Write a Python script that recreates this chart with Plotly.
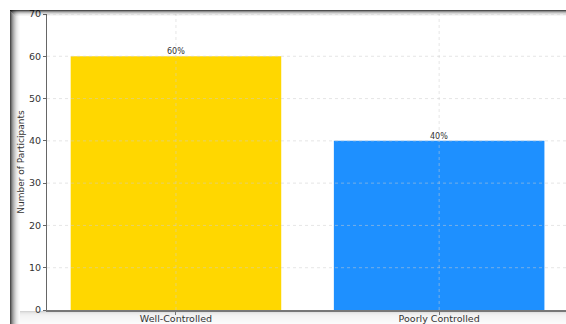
import plotly.graph_objects as go

# Participant counts by glycaemic control status
categories = ["Well-Controlled", "Poorly Controlled"]
participants = [60, 40]
percent_labels = ["60%", "40%"]
bar_colors = ["#FFD700", "#1E90FF"]
y_ticks = [0, 10, 20, 30, 40, 50, 60, 70]

W, H = 566, 324
ML, MR, MT, MB = 47, 0, 14, 14
PW, PH = W - ML - MR, H - MT - MB


def px_x(px):
    return (px - ML) / PW


def px_y(py):
    return (H - MB - py) / PH


fig = go.Figure()
fig.add_trace(go.Bar(
    x=list(range(len(categories))),
    y=participants,
    width=0.8,
    marker=dict(color=bar_colors, line=dict(width=0)),
    hoverinfo="skip",
))

shapes = []
# faint dotted grid drawn over the bars
grid_line = dict(color="rgba(205,205,205,0.5)", width=1, dash="dot")
for t in y_ticks[1:]:
    shapes.append(dict(type="line", xref="paper", yref="y", x0=0, x1=1, y0=t, y1=t,
                       line=grid_line, layer="above"))
for i, _ in enumerate(categories):
    shapes.append(dict(type="line", xref="x", yref="paper", x0=i, x1=i, y0=0, y1=1,
                       line=grid_line, layer="above"))

# framed border with a soft shadow along the left and top edges
left_alpha = [0.7, 0.55, 0.42, 0.32, 0.24, 0.17, 0.11, 0.07, 0.04, 0.02]
for k, a in enumerate(left_alpha):
    shapes.append(dict(type="rect", xref="paper", yref="paper",
                       x0=px_x(10 + k), x1=px_x(11 + k), y0=px_y(H), y1=px_y(10),
                       line=dict(width=0), fillcolor=f"rgba(0,0,0,{a})", layer="above"))
top_alpha = [0.7, 0.45, 0.28, 0.16, 0.08, 0.04]
for k, a in enumerate(top_alpha):
    shapes.append(dict(type="rect", xref="paper", yref="paper",
                       x0=px_x(10 + min(k, 9)), x1=px_x(W), y0=px_y(11 + k), y1=px_y(10 + k),
                       line=dict(width=0), fillcolor=f"rgba(0,0,0,{a})", layer="above"))
# light band beneath the x axis
bottom_levels = [212, 226, 234, 239, 242, 244, 245, 246, 247, 248, 249, 250, 251]
for k, g in enumerate(bottom_levels):
    col = f"rgb({g},{g},{g})"
    shapes.append(dict(type="rect", xref="paper", yref="paper",
                       x0=px_x(20), x1=px_x(W), y0=px_y(312 + k), y1=px_y(311 + k),
                       line=dict(width=0), fillcolor=col, layer="below"))

annotations = []
for i, (v, lab) in enumerate(zip(participants, percent_labels)):
    annotations.append(dict(x=i, y=v, xref="x", yref="y", text=lab, showarrow=False,
                            yanchor="bottom", yshift=-2,
                            font=dict(family="DejaVu Sans", size=8, color="#333")))

fig.update_layout(
    width=W, height=H,
    margin=dict(l=ML, r=MR, t=MT, b=MB, pad=0),
    paper_bgcolor="white", plot_bgcolor="rgba(0,0,0,0)",
    showlegend=False,
    shapes=shapes,
    annotations=annotations,
    font=dict(family="DejaVu Sans", size=9, color="#333"),
    xaxis=dict(
        range=[-0.49, 1.482],
        tickmode="array", tickvals=list(range(len(categories))), ticktext=categories,
        showgrid=False, zeroline=False,
        showline=True, linecolor="#777", linewidth=1.5,
        ticks="outside", ticklen=3, tickcolor="#777",
        ticklabelstandoff=-4,
        tickfont=dict(size=9.5, color="#333"),
    ),
    yaxis=dict(
        range=[0, 70],
        tickmode="array", tickvals=y_ticks,
        showgrid=False, zeroline=False,
        showline=True, linecolor="#666", linewidth=1,
        ticks="outside", ticklen=3, tickcolor="#666",
        tickfont=dict(size=9.5, color="#333"),
        title=dict(text="Number of Participants", font=dict(size=9, color="#333"), standoff=2),
    ),
)

fig.write_html("out.html")
